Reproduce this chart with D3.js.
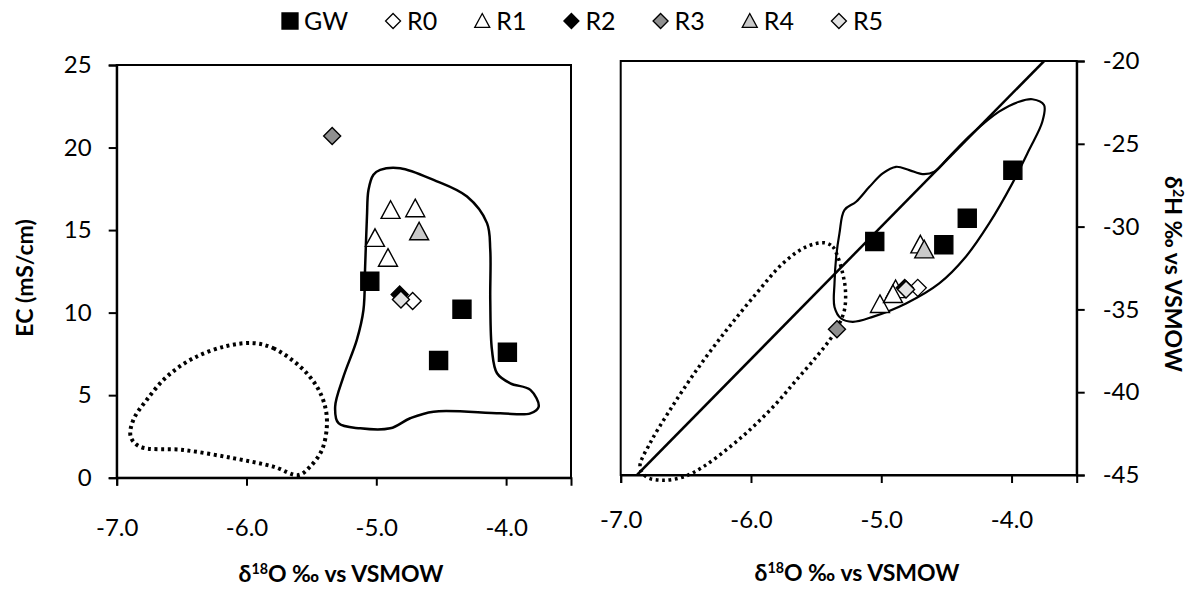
<!DOCTYPE html>
<html>
<head>
<meta charset="utf-8">
<script src="https://d3js.org/d3.v7.min.js"></script>
<style>
  body { margin: 0; background: #fff; }
  svg text { font-family: Lato, "Open Sans", sans-serif; fill: #000; }
</style>
</head>
<body>
<svg id="chart" width="1194" height="590"></svg>
<script>
// samples: [d18O, EC (mS/cm), d2H]
const GW = [[-5.05, 11.9, -30.9], [-4.52, 7.1, -31.1], [-4.34, 10.2, -29.5], [-3.99, 7.6, -26.6]];
const R0 = [[-4.72, 10.7, -33.7]];
const R1 = [[-4.89, 16.2, -33.8], [-4.70, 16.3, -31.1], [-5.01, 14.5, -34.7], [-4.91, 13.3, -34.1]];
const R2 = [[-4.82, 11.1, -33.7]];
const R3 = [[-5.34, 20.7, -36.2]];
const R4 = [[-4.67, 14.9, -31.4]];
const R5 = [[-4.81, 10.8, -33.8]];

const seriesNames = ["GW", "R0", "R1", "R2", "R3", "R4", "R5"];
const seriesData = [GW, R0, R1, R2, R3, R4, R5];

const xTicks = [-7, -6, -5, -4];
const ecTicks = [0, 5, 10, 15, 20, 25];
const h2Ticks = [-45, -40, -35, -30, -25, -20];

// global meteoric water line end points (d18O, d2H)
const gmwl = [[-6.875, -45], [-3.75, -20]];

// hand drawn envelopes (d18O, EC)
const ecSolid = [[-4.97, 18.65], [-4.816, 18.75], [-4.559, 18.04], [-4.301, 17.03], [-4.147, 15.42], [-4.122, 13.8],
  [-4.122, 10.77], [-4.109, 7.74], [-4.07, 6.33], [-3.968, 5.72], [-3.813, 5.32], [-3.749, 4.3], [-3.813, 3.9],
  [-4.045, 3.9], [-4.559, 4.0], [-4.739, 3.6], [-4.893, 2.99], [-5.124, 2.99], [-5.291, 3.3], [-5.317, 4.3],
  [-5.253, 6.12], [-5.15, 8.35], [-5.099, 10.16], [-5.086, 12.79], [-5.072, 15.82], [-5.06, 17.44], [-5.022, 18.35]];
const ecDotted = [[-5.947, 8.15], [-5.793, 7.84], [-5.587, 6.73], [-5.458, 5.52], [-5.394, 4.3], [-5.381, 3.09],
  [-5.419, 1.68], [-5.51, 0.67], [-5.6, 0.16], [-5.793, 0.67], [-6.101, 1.18], [-6.487, 1.68], [-6.82, 1.88],
  [-6.892, 2.48], [-6.872, 3.5], [-6.769, 4.71], [-6.614, 6.12], [-6.409, 7.24], [-6.152, 7.98]];
// (d18O, d2H)
const h2Solid = [[-3.841, -22.31], [-3.751, -22.66], [-3.764, -23.67], [-3.866, -25.38], [-3.994, -27.39],
  [-4.172, -29.81], [-4.351, -31.82], [-4.555, -33.43], [-4.81, -34.64], [-5.066, -35.45], [-5.219, -35.75],
  [-5.308, -35.55], [-5.359, -34.85], [-5.359, -33.43], [-5.346, -31.82], [-5.321, -30.41], [-5.283, -29.0],
  [-5.193, -28.5], [-5.091, -27.6], [-4.989, -26.79], [-4.887, -26.39], [-4.785, -26.59], [-4.683, -26.83],
  [-4.593, -26.69], [-4.479, -25.78], [-4.3, -24.37], [-4.096, -23.06], [-3.943, -22.46]];
const h2Dotted = [[-5.436, -30.98], [-5.372, -31.22], [-5.334, -31.82], [-5.296, -32.83], [-5.275, -33.84],
  [-5.283, -35.05], [-5.334, -36.05], [-5.397, -36.86], [-5.499, -37.87], [-5.652, -39.27], [-5.806, -40.68],
  [-5.985, -42.1], [-6.163, -43.31], [-6.368, -44.51], [-6.521, -45.12], [-6.674, -45.32], [-6.801, -45.12],
  [-6.852, -44.51], [-6.776, -43.1], [-6.623, -41.09], [-6.418, -38.67], [-6.188, -36.25], [-5.959, -34.04],
  [-5.755, -32.22], [-5.576, -31.22]];

// marker look per series
const symDiamond = { draw(ctx, size) { const r = Math.sqrt(size) / 2; ctx.moveTo(0, -r); ctx.lineTo(r, 0); ctx.lineTo(0, r); ctx.lineTo(-r, 0); ctx.closePath(); } };
const symTriangle = { draw(ctx, size) { const r = Math.sqrt(size) / 2; ctx.moveTo(0, -r); ctx.lineTo(r, r * 0.85); ctx.lineTo(-r, r * 0.85); ctx.closePath(); } };
const symSquare = { draw(ctx, size) { const r = Math.sqrt(size) / 2; ctx.rect(-r, -r, 2 * r, 2 * r); } };
const styles = {
  GW: { type: symSquare, fill: "#000", size: 18 },
  R0: { type: symDiamond, fill: "#fff", size: 17 },
  R1: { type: symTriangle, fill: "#fff", size: 19 },
  R2: { type: symDiamond, fill: "#000", size: 17 },
  R3: { type: symDiamond, fill: "#8f8f8f", size: 17 },
  R4: { type: symTriangle, fill: "#c9c9c9", size: 19 },
  R5: { type: symDiamond, fill: "#e2e2e2", size: 17 }
};

const svg = d3.select("#chart");

const xL = d3.scaleLinear().domain([-7, -3.5]).range([116.7, 571]);
const yL = d3.scaleLinear().domain([0, 25]).range([477.7, 65]);
const xR = d3.scaleLinear().domain([-7, -3.5]).range([620.7, 1076.7]);
const yR = d3.scaleLinear().domain([-45, -20]).range([475, 61]);

function frame(x, y) {
  const [x0, x1] = x.range(), [y0, y1] = y.range();
  svg.append("rect").attr("x", x0).attr("y", y1).attr("width", x1 - x0).attr("height", y0 - y1)
    .attr("fill", "none").attr("stroke", "#000").attr("stroke-width", 2);
}
function styleAxis(g) {
  g.select(".domain").attr("stroke-width", 2);
  g.selectAll(".tick line").attr("stroke-width", 2);
  g.selectAll(".tick text").attr("font-size", 24).attr("font-family", "Lato");
}

// ---- left panel
frame(xL, yL);
svg.append("g").attr("transform", `translate(0,${yL(0)})`)
  .call(d3.axisBottom(xL).tickValues(xTicks).tickFormat(d => d.toFixed(1)).tickSize(8).tickPadding(33))
  .call(styleAxis);
svg.append("g").attr("transform", `translate(${xL(-7)},0)`)
  .call(d3.axisLeft(yL).tickValues(ecTicks).tickSize(8).tickPadding(17))
  .call(styleAxis);

const curve = d3.line().curve(d3.curveCatmullRomClosed.alpha(0.5));
svg.append("path").attr("d", curve(ecSolid.map(d => [xL(d[0]), yL(d[1])])))
  .attr("fill", "none").attr("stroke", "#000").attr("stroke-width", 2.5);
svg.append("path").attr("d", curve(ecDotted.map(d => [xL(d[0]), yL(d[1])])))
  .attr("fill", "none").attr("stroke", "#000").attr("stroke-width", 4).attr("stroke-dasharray", "3 3.6");

// ---- right panel
frame(xR, yR);
svg.append("g").attr("transform", `translate(0,${yR(-45)})`)
  .call(d3.axisBottom(xR).tickValues(xTicks).tickFormat(d => d.toFixed(1)).tickSize(8).tickPadding(28))
  .call(styleAxis);
svg.append("g").attr("transform", `translate(${xR(-3.5)},0)`)
  .call(d3.axisRight(yR).tickValues(h2Ticks).tickFormat(d => String(d)).tickSize(8).tickPadding(18))
  .call(styleAxis);

svg.append("clipPath").attr("id", "clipR").append("rect")
  .attr("x", xR(-7)).attr("y", yR(-20)).attr("width", xR(-3.5) - xR(-7)).attr("height", yR(-45) - yR(-20));
svg.append("path").attr("d", d3.line()(gmwl.map(d => [xR(d[0]), yR(d[1])])))
  .attr("clip-path", "url(#clipR)").attr("fill", "none").attr("stroke", "#000").attr("stroke-width", 2.5);
svg.append("path").attr("d", curve(h2Solid.map(d => [xR(d[0]), yR(d[1])])))
  .attr("fill", "none").attr("stroke", "#000").attr("stroke-width", 2.2);
svg.append("path").attr("d", curve(h2Dotted.map(d => [xR(d[0]), yR(d[1])])))
  .attr("fill", "none").attr("stroke", "#000").attr("stroke-width", 3.5).attr("stroke-dasharray", "2.8 3.6");

// ---- points
seriesNames.forEach((name, i) => {
  const st = styles[name];
  const sym = d3.symbol().type(st.type).size(st.size * st.size);
  seriesData[i].forEach(d => {
    svg.append("path").attr("d", sym).attr("transform", `translate(${xL(d[0])},${yL(d[1])})`)
      .attr("fill", st.fill).attr("stroke", "#000").attr("stroke-width", 1.4);
    svg.append("path").attr("d", sym).attr("transform", `translate(${xR(d[0])},${yR(d[2])})`)
      .attr("fill", st.fill).attr("stroke", "#000").attr("stroke-width", 1.4);
  });
});

// ---- axis titles
function deltaTitle(g, iso, rest) {
  g.append("tspan").text("δ");
  g.append("tspan").attr("baseline-shift", "super").attr("font-size", "0.62em").text(iso);
  g.append("tspan").text(rest);
}
const tL = svg.append("text").attr("x", 341).attr("y", 582).attr("text-anchor", "middle")
  .attr("font-size", 23).attr("font-weight", "bold");
deltaTitle(tL, "18", "O ‰ vs VSMOW");
const tR = svg.append("text").attr("x", 857).attr("y", 581).attr("text-anchor", "middle")
  .attr("font-size", 23).attr("font-weight", "bold");
deltaTitle(tR, "18", "O ‰ vs VSMOW");

svg.append("text").attr("transform", "translate(25,278) rotate(-90)").attr("dy", "0.35em")
  .attr("text-anchor", "middle").attr("font-size", 23).attr("font-weight", "bold").text("EC (mS/cm)");
const tY = svg.append("text").attr("transform", "translate(1173,274) rotate(90)").attr("dy", "0.35em")
  .attr("text-anchor", "middle").attr("font-size", 23).attr("font-weight", "bold");
deltaTitle(tY, "2", "H ‰ vs VSMOW");

// ---- legend
const legend = svg.append("g").attr("transform", "translate(0,21)");
let cursor = 282;
seriesNames.forEach(name => {
  const st = styles[name];
  const ms = st.type === symSquare ? 16 : 15;
  legend.append("path").attr("d", d3.symbol().type(st.type).size(ms * ms))
    .attr("transform", `translate(${cursor + 8},0)`)
    .attr("fill", st.fill).attr("stroke", "#000").attr("stroke-width", 1.3);
  const t = legend.append("text").attr("x", cursor + 22).attr("dy", "0.36em")
    .attr("font-size", 25).text(name);
  cursor += 22 + t.node().getComputedTextLength() + 37;
});
</script>
</body>
</html>
